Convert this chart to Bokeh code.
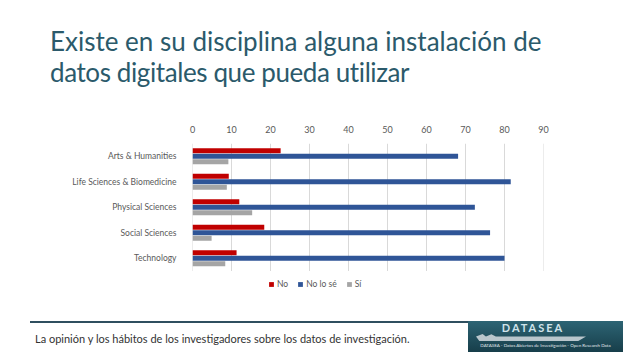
from bokeh.plotting import figure
from bokeh.models import (ColumnDataSource, FactorRange, Legend, LegendItem,
                          FixedTicker, Div)
from bokeh.layouts import column
from bokeh.transform import dodge
from bokeh.embed import file_html
from bokeh.resources import INLINE

# ---- data ----
categories = ["Arts & Humanities", "Life Sciences & Biomedicine",
              "Physical Sciences", "Social Sciences", "Technology"]
no_vals = [22.6, 9.3, 12.0, 18.4, 11.3]
nolose_vals = [68.1, 81.6, 72.4, 76.3, 80.0]
si_vals = [9.2, 8.8, 15.3, 4.9, 8.4]
series_names = ["No", "No lo sé", "Sí"]
x_ticks = [0, 10, 20, 30, 40, 50, 60, 70, 80, 90]

title_lines = ["Existe en su disciplina alguna instalación de",
               "datos digitales que pueda utilizar"]
footer_text = "La opinión y los hábitos de los investigadores sobre los datos de investigación."
logo_title = "DATASEA"
logo_sub = "DATASEA - Datos Abiertos de Investigación - Open Research Data"

# ---- style ----
FONT = "Lato"
RED, BLUE, GREY = "#C00000", "#2F5597", "#A5A5A5"
TEAL = "#2B5A6B"
W = 638
TITLE_H, FIG_H, FOOT_H = 110, 200, 49
BL, BR, BT, BB = 192, 95, 33, 14
LEGEND_ROW = " "   # blank band below the categories that holds the legend

title_div = Div(
    text=('<div style="padding:26px 0 0 50px;font-family:Lato,sans-serif;'
          'font-size:26px;line-height:31px;color:%s;white-space:nowrap;">%s<br>'
          '<span style="letter-spacing:-0.4px;">%s</span></div>'
          % (TEAL, title_lines[0], title_lines[1])),
    width=W, height=TITLE_H, margin=0)

p = figure(width=W, height=FIG_H,
           y_range=FactorRange(*([LEGEND_ROW] + categories[::-1])),
           x_range=(x_ticks[0], x_ticks[-1]), output_backend="svg",
           toolbar_location=None, x_axis_location="above", title=None,
           min_border_left=BL, min_border_right=BR,
           min_border_top=BT, min_border_bottom=BB)
p.outline_line_color = None
p.xgrid.visible = False
p.ygrid.visible = False
p.xaxis.ticker = FixedTicker(ticks=x_ticks)

for ax in (p.xaxis, p.yaxis):
    ax.axis_line_color = None
    ax.major_tick_line_color = None
    ax.minor_tick_line_color = None
    ax.major_label_text_color = "#595959"
    ax.major_label_text_font = FONT
p.xaxis.major_label_text_font_size = "9px"
p.xaxis.major_label_standoff = 5
p.yaxis.major_label_text_font_size = "8.5px"
p.yaxis.major_label_standoff = 10

# vertical gridlines spanning only the category bands
grid_src = ColumnDataSource(dict(x=x_ticks,
                                 bot=[categories[-1]] * len(x_ticks),
                                 top=[categories[0]] * len(x_ticks)))
p.segment(x0="x", x1="x", y0=dodge("bot", -0.5, range=p.y_range),
          y1=dodge("top", 0.5, range=p.y_range), source=grid_src,
          line_color="#D9D9D9", line_width=1, level="underlay")

src = ColumnDataSource(dict(cat=categories, no=no_vals, nolose=nolose_vals, si=si_vals))
OFF, BH = 0.215, 0.2
r_no = p.hbar(y=dodge("cat", OFF, range=p.y_range), left=0, right="no", height=BH,
              fill_color=RED, line_color=None, source=src)
r_nl = p.hbar(y=dodge("cat", 0, range=p.y_range), left=0, right="nolose", height=BH,
              fill_color=BLUE, line_color=None, source=src)
r_si = p.hbar(y=dodge("cat", -OFF, range=p.y_range), left=0, right="si", height=BH,
              fill_color=GREY, line_color=None, source=src)

legend = Legend(items=[LegendItem(label=series_names[0], renderers=[r_no]),
                       LegendItem(label=series_names[1], renderers=[r_nl]),
                       LegendItem(label=series_names[2], renderers=[r_si])],
                orientation="horizontal", location=(76, 7),
                padding=0, margin=0, spacing=9, label_standoff=3,
                glyph_width=6, glyph_height=6, label_width=0, label_height=6,
                label_text_font=FONT, label_text_font_size="8.5px",
                label_text_color="#595959", border_line_color=None,
                background_fill_alpha=0)
p.add_layout(legend, "center")

footer_div = Div(
    text=('<div style="position:relative;width:%dpx;height:%dpx;font-family:Lato,sans-serif;overflow:hidden;">'
          '<div style="position:absolute;left:30px;top:11px;width:438px;height:2px;background:#2F4F5F;"></div>'
          '<div style="position:absolute;left:35px;top:22px;font-size:11px;line-height:13px;color:#333333;white-space:nowrap;">%s</div>'
          '<div style="position:absolute;left:468px;top:11px;width:155px;height:31px;'
          'background:linear-gradient(#2D6474,#173E4A);">'
          '<div style="position:absolute;left:8px;top:13px;width:110px;height:7px;background:#B9C6CC;'
          'clip-path:polygon(0 35%%,6%% 0,9%% 35%%,14%% 5%%,18%% 35%%,100%% 35%%,93%% 100%%,3%% 100%%);"></div>'
          '<div style="position:absolute;left:0;top:1px;width:130px;text-align:center;font-size:11px;'
          'font-weight:bold;letter-spacing:2px;color:#CFE3EA;line-height:12px;">%s</div>'
          '<div style="position:absolute;left:0;top:22px;width:155px;text-align:center;font-size:4.5px;'
          'line-height:6px;color:#E0E8EC;white-space:nowrap;">%s</div>'
          '</div></div>') % (W, FOOT_H, footer_text, logo_title, logo_sub),
    width=W, height=FOOT_H, margin=0)

layout = column(title_div, p, footer_div, spacing=0)
open("out.html", "w").write(file_html(layout, INLINE))
